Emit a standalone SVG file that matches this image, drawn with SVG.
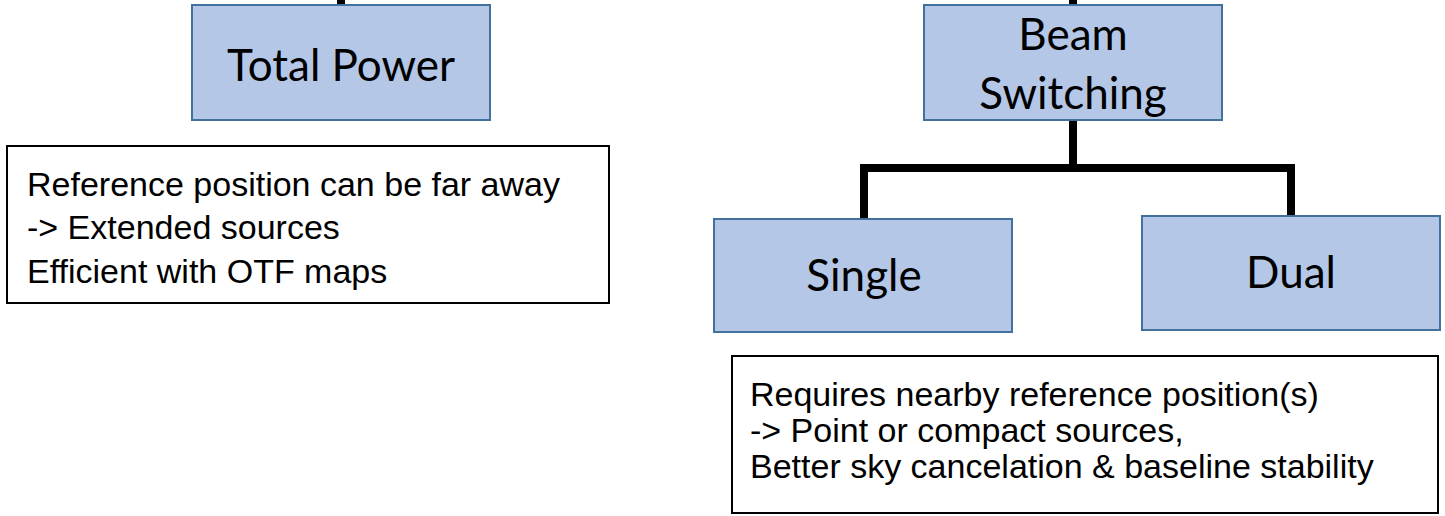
<svg xmlns="http://www.w3.org/2000/svg" width="1445" height="516" viewBox="0 0 1445 516">
<style>
.node{fill:#B4C7E7;stroke:#41719C;stroke-width:2}
.ntxt{font-family:Lato,"Open Sans",sans-serif;font-size:44px;fill:#000;text-anchor:middle}
.note{fill:#fff;stroke:#000;stroke-width:2}
.ttxt{font-family:"Liberation Sans",Arial,sans-serif;font-size:34px;fill:#000}
.conn{fill:none;stroke:#000;stroke-width:8}
</style>
<rect width="1445" height="516" fill="#fff"/>
<g id="connectors">
<line class="conn" x1="341" y1="0" x2="341" y2="5"/>
<line class="conn" x1="1073" y1="0" x2="1073" y2="5"/>
<line class="conn" x1="1073" y1="120" x2="1073" y2="168"/>
<path class="conn" d="M864 219 V168 H1291 V216"/>
</g>
<g id="total-power">
<rect class="node" x="192" y="5" width="298" height="115"/>
<text class="ntxt" x="341" y="81">Total Power</text>
</g>
<g id="beam-switching">
<rect class="node" x="924" y="5" width="298" height="115"/>
<text class="ntxt" x="1073" y="50">Beam</text>
<text class="ntxt" x="1073" y="109">Switching</text>
</g>
<g id="single">
<rect class="node" x="714" y="219" width="298" height="113"/>
<text class="ntxt" x="864" y="291">Single</text>
</g>
<g id="dual">
<rect class="node" x="1142" y="216" width="298" height="114"/>
<text class="ntxt" x="1291" y="288">Dual</text>
</g>
<g id="note-total-power">
<rect class="note" x="7" y="146" width="602" height="157"/>
<text class="ttxt" x="27" y="196">Reference position can be far away</text>
<text class="ttxt" x="27" y="239">-&gt; Extended sources</text>
<text class="ttxt" x="27" y="283">Efficient with OTF maps</text>
</g>
<g id="note-beam-switching">
<rect class="note" x="732" y="356" width="706" height="157"/>
<text class="ttxt" x="750" y="406">Requires nearby reference position(s)</text>
<text class="ttxt" x="750" y="442">-&gt; Point or compact sources,</text>
<text class="ttxt" x="750" y="478">Better sky cancelation &amp; baseline stability</text>
</g>
</svg>
